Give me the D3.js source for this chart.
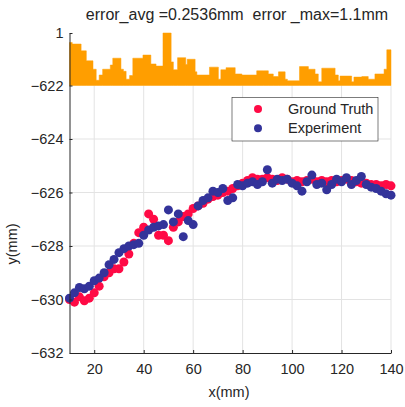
<!DOCTYPE html>
<html>
<head>
<meta charset="utf-8">
<script src="https://cdn.jsdelivr.net/npm/d3@7"></script>
<style>
  body { margin: 0; background: #fff; }
  text { font-family: "Liberation Sans", Arial, sans-serif; fill: #262626; }
</style>
</head>
<body>
<div id="chart"></div>
<script>
// error histogram: step start (mm) and error value (mm)
const errStart = [10, 11.1, 14.7, 16.8, 19.5, 20.8, 22, 23.4, 26.5, 27.5, 30.8, 31.8, 32.9, 34.3, 35.6,
    39.7, 42.9, 45, 47.8, 51.1, 52, 53.7, 57, 57.6, 60.8, 61.5, 66.6, 70.2, 71.2, 73.3, 77, 79.7,
    85.7, 88.4, 90.4, 92.4, 94.5, 97.2, 98.1, 103, 106.6, 109.3, 110.6, 112, 117.4, 118.7, 119.4,
    124.1, 125, 128.2, 130.8, 133.5, 137.2, 138.3];
const errValue = [0.82, 0.79, 0.66, 0.47, 0.31, 0.10, 0.20, 0.31, 0.39, 0.52, 0.31, 0.27, 0.12, 0.19, 0.52,
    0.58, 0.41, 0.37, 1.0, 0.45, 0.30, 0.53, 0.40, 0.50, 0.26, 0.20, 0.35, 0.12, 0.30, 0.34, 0.22, 0.20,
    0.28, 0.28, 0.22, 0.17, 0.26, 0.12, 0.09, 0.36, 0.31, 0.22, 0.07, 0.33, 0.20, 0.09, 0.18,
    0.07, 0.16, 0.17, 0.12, 0.22, 0.31, 0.68];

const xPos = [10, 12, 14, 16, 18, 20, 22, 24, 26, 28, 30, 32, 34, 36, 38, 40, 42, 44, 46, 48, 50, 52,
    54, 56, 58, 60, 62, 64, 66, 68, 70, 72, 74, 76, 78, 80, 82, 84, 86, 88, 90, 92, 94, 96, 98, 100,
    102, 104, 106, 108, 110, 112, 114, 116, 118, 120, 122, 124, 126, 128, 130, 132, 134, 136, 138, 140];
const groundTruth = [-630.0, -630.1, -629.9, -630.05, -629.95, -629.75, -629.5, -629.15, -629.0, -628.85,
    -628.85, -628.6, -628.3, -627.9, -627.5, -627.3, -626.8, -627.0, -627.6, -627.6, -627.8, -627.3,
    -627.1, -626.9, -626.8, -626.6, -626.5, -626.4, -626.25, -626.15, -626.1, -626.0, -625.95, -625.85,
    -625.75, -625.65, -625.55, -625.45, -625.5, -625.5, -625.45, -625.5, -625.55, -625.45, -625.5,
    -625.6, -625.55, -625.6, -625.55, -625.5, -625.6, -625.55, -625.6, -625.55, -625.6, -625.55,
    -625.5, -625.55, -625.6, -625.65, -625.65, -625.7, -625.7, -625.75, -625.7, -625.75];
const experiment = [-629.95, -629.75, -629.55, -629.6, -629.5, -629.3, -629.2, -629.0, -628.7, -628.5,
    -628.25, -628.1, -628.0, -627.95, -627.9, -627.6, -627.4, -627.3, -627.25, -627.2, -626.65, -627.1,
    -626.8, -627.65, -627.05, -627.2, -626.5, -626.3, -626.2, -625.95, -626.0, -625.85, -626.3, -626.2,
    -625.7, -625.75, -625.65, -625.6, -625.7, -625.6, -625.15, -625.65, -625.5, -625.55, -625.5,
    -625.65, -625.75, -625.95, -625.6, -625.35, -625.7, -625.65, -625.9, -625.7, -625.5, -625.6,
    -625.45, -625.7, -625.55, -625.4, -625.7, -625.8, -625.85, -625.95, -626.05, -626.1];

const xTicks = [20, 40, 60, 80, 100, 120, 140];
const yTicks = [-632, -630, -628, -626, -624, -622];
const titleText = "error_avg =0.2536mm  error _max=1.1mm";
const seriesNames = ["Ground Truth", "Experiment"];
const seriesColors = ["#ff0a45", "#33339a"];

const width = 405, height = 407;
const svg = d3.select("#chart").append("svg")
    .attr("width", width)
    .attr("height", height);

const x = d3.scaleLinear().domain([10, 140]).range([69.5, 391]);
const y = d3.scaleLinear().domain([-632, -622]).range([353, 85.5]);
const yErr = d3.scaleLinear().domain([0, 1]).range([85.5, 33]);

// grid
const grid = svg.append("g").attr("stroke", "#e3e3e3").attr("stroke-width", 1);
grid.selectAll(".gx").data(xTicks).enter().append("line")
    .attr("x1", d => x(d)).attr("x2", d => x(d))
    .attr("y1", y(-632)).attr("y2", y(-622));
grid.selectAll(".gy").data(yTicks.slice(1, -1)).enter().append("line")
    .attr("x1", x(10)).attr("x2", x(140))
    .attr("y1", d => y(d)).attr("y2", d => y(d));

// error bars as steps
const stepData = errStart.map((s, i) => [s, errValue[i]]);
stepData.push([140, errValue[errValue.length - 1]]);
svg.append("path")
    .datum(stepData)
    .attr("fill", "#ff9e00")
    .attr("stroke", "#ff9e00")
    .attr("stroke-width", 0.5)
    .attr("d", d3.area()
        .curve(d3.curveStepAfter)
        .x(d => x(d[0]))
        .y0(yErr(0))
        .y1(d => yErr(d[1])));

// scatter points
[groundTruth, experiment].forEach((vals, k) => {
    svg.append("g").selectAll("circle")
        .data(vals)
        .enter().append("circle")
        .attr("cx", (d, i) => x(xPos[i]))
        .attr("cy", d => y(d))
        .attr("r", 4.5)
        .attr("fill", seriesColors[k]);
});

// axes
const yAxis = d3.axisLeft(y).tickValues(yTicks).tickSize(-3).tickSizeOuter(0).tickPadding(6);
const gy = svg.append("g").attr("transform", `translate(${x(10)},0)`).call(yAxis);
const errAxis = d3.axisLeft(yErr).tickValues([1]).tickSize(-3).tickSizeOuter(0).tickPadding(6)
    .tickFormat(d3.format("d"));
const ge = svg.append("g").attr("transform", `translate(${x(10)},0)`).call(errAxis);
const xAxis = d3.axisBottom(x).tickValues(xTicks).tickSize(-3).tickSizeOuter(0).tickPadding(11);
const gx = svg.append("g").attr("transform", `translate(0,${y(-632)})`).call(xAxis);
[gy, ge, gx].forEach(g => {
    g.selectAll("path, line").attr("stroke", "#262626");
    g.selectAll("text").style("font-size", "14.5px").attr("fill", "#262626");
});

// title and labels
svg.append("text")
    .attr("x", 237).attr("y", 20)
    .attr("text-anchor", "middle")
    .style("font-size", "16px")
    .style("white-space", "pre")
    .text(titleText);
svg.append("text")
    .attr("x", 229).attr("y", 397)
    .attr("text-anchor", "middle")
    .style("font-size", "14.5px")
    .text("x(mm)");
svg.append("text")
    .attr("transform", "translate(17,244) rotate(-90)")
    .attr("text-anchor", "middle")
    .style("font-size", "14.5px")
    .text("y(mm)");

// legend
const legend = svg.append("g");
legend.append("rect")
    .attr("x", 232).attr("y", 97.5)
    .attr("width", 146).attr("height", 43.5)
    .attr("fill", "#fff")
    .attr("stroke", "#262626")
    .attr("stroke-width", 0.6);
seriesNames.forEach((name, i) => {
    legend.append("circle")
        .attr("cx", 258).attr("cy", 109 + i * 19.3)
        .attr("r", 4)
        .attr("fill", seriesColors[i]);
    legend.append("text")
        .attr("x", 288).attr("y", 114 + i * 19.3)
        .style("font-size", "14.5px")
        .text(name);
});
</script>
</body>
</html>
